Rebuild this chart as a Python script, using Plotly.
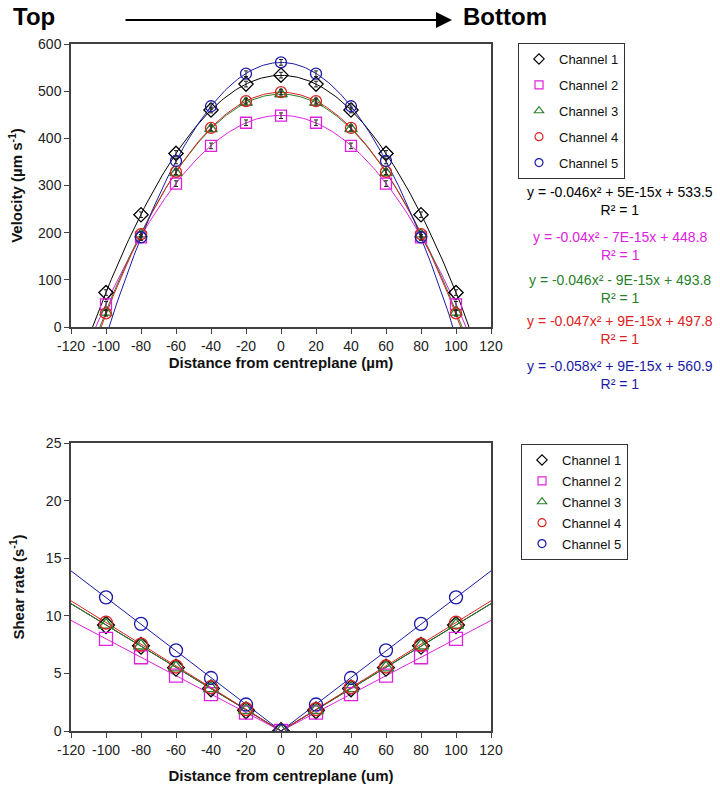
import numpy as np
import plotly.graph_objects as go

# ---- data ----
channels = ['Channel 1', 'Channel 2', 'Channel 3', 'Channel 4', 'Channel 5']
colors = ['#000000', '#DD22DD', '#2A7F2A', '#DD2222', '#1A1AA6']
symbols = ['diamond-open', 'square-open', 'triangle-up-open', 'circle-open', 'circle-open']

dist = [-100, -80, -60, -40, -20, 0, 20, 40, 60, 80, 100]

vel_ch1 = [73, 238, 368, 460, 515, 534, 515, 460, 368, 238, 73]
vel_ch2 = [48, 190, 304, 384, 433, 448, 433, 384, 304, 190, 48]
vel_ch3 = [31, 197, 327, 420, 476, 494, 476, 420, 327, 197, 31]
vel_ch4 = [29, 197, 329, 422, 479, 498, 479, 422, 329, 197, 29]
vel_ch5 = [None, 190, 352, 468, 537, 561, 537, 468, 352, 190, None]
vel_err = [6, 6, 6, 6, 6, 6, 6, 6, 6, 6, 6]

# trendline coefficients (from the equation labels): y = a*x^2 + b*x + c
fit_a = [-0.046, -0.04, -0.046, -0.047, -0.058]
fit_b_txt = ['+ 5E-15x', '- 7E-15x', '- 9E-15x', '+ 9E-15x', '+ 9E-15x']
fit_c = [533.5, 448.8, 493.8, 497.8, 560.9]

shear_ch1 = [9.2, 7.4, 5.5, 3.7, 1.8, 0, 1.8, 3.7, 5.5, 7.4, 9.2]
shear_ch2 = [8.0, 6.4, 4.8, 3.2, 1.6, 0, 1.6, 3.2, 4.8, 6.4, 8.0]
shear_ch3 = [9.2, 7.4, 5.5, 3.7, 1.8, 0, 1.8, 3.7, 5.5, 7.4, 9.2]
shear_ch4 = [9.4, 7.5, 5.6, 3.8, 1.9, 0, 1.9, 3.8, 5.6, 7.5, 9.4]
shear_ch5 = [11.6, 9.3, 7.0, 4.6, 2.3, 0, 2.3, 4.6, 7.0, 9.3, 11.6]

# shear trend lines: value at -120, 0, +120
line_x = [-120, 0, 120]
shear_end = [11.05, 9.6, 11.05, 11.3, 13.9]

x_ticks = [-120, -100, -80, -60, -40, -20, 0, 20, 40, 60, 80, 100, 120]
x_labels = ['-120', '-100', '-80', '-60', '-40', '-20', '0', '20', '40', '60', '80', '100', '120']

vel = [vel_ch1, vel_ch2, vel_ch3, vel_ch4, vel_ch5]
shear = [shear_ch1, shear_ch2, shear_ch3, shear_ch4, shear_ch5]

FONT = 'Arial, Liberation Sans, sans-serif'

fig = go.Figure()

xs = np.linspace(-120, 120, 241)
for i in range(5):
    fig.add_trace(go.Scatter(
        x=xs, y=fit_a[i] * xs ** 2 + fit_c[i], mode='lines',
        line=dict(color=colors[i], width=1), showlegend=False,
        hoverinfo='skip', xaxis='x', yaxis='y'))
for i in range(5):
    fig.add_trace(go.Scatter(
        x=dist, y=vel[i], mode='markers', name=channels[i], showlegend=False,
        marker=dict(symbol=symbols[i], size=11, color=colors[i],
                    line=dict(width=1.3, color=colors[i])),
        error_y=dict(type='data', array=vel_err, color='#222222', thickness=1, width=2),
        xaxis='x', yaxis='y'))
    # small legend swatch
    fig.add_trace(go.Scatter(
        x=[None], y=[None], mode='markers', name=channels[i],
        marker=dict(symbol=symbols[i], size=8, color=colors[i],
                    line=dict(width=1.2, color=colors[i])),
        legend='legend', legendgroup='a%d' % i, xaxis='x', yaxis='y'))

for i in range(5):
    fig.add_trace(go.Scatter(
        x=line_x, y=[shear_end[i], 0, shear_end[i]], mode='lines',
        line=dict(color=colors[i], width=1), showlegend=False,
        hoverinfo='skip', xaxis='x2', yaxis='y2'))
for i in range(5):
    fig.add_trace(go.Scatter(
        x=dist, y=shear[i], mode='markers', name=channels[i], showlegend=False,
        marker=dict(symbol=symbols[i], size=13, color=colors[i],
                    line=dict(width=1.3, color=colors[i])),
        xaxis='x2', yaxis='y2'))
    fig.add_trace(go.Scatter(
        x=[None], y=[None], mode='markers', name=channels[i],
        marker=dict(symbol=symbols[i], size=8, color=colors[i],
                    line=dict(width=1.2, color=colors[i])),
        legend='legend2', legendgroup='b%d' % i, xaxis='x2', yaxis='y2'))

axis_common = dict(
    showline=True, linecolor='#404040', linewidth=1.5, mirror=True,
    ticks='outside', ticklen=5, tickcolor='#404040',
    showgrid=False, zeroline=False, automargin=False,
    tickfont=dict(family=FONT, size=14, color='#222222'),
)
title_font = dict(family=FONT, size=15, color='#111111', weight='bold')
legend_common = dict(
    xanchor='left', yanchor='top', bordercolor='#333333', borderwidth=1,
    bgcolor='white', font=dict(family=FONT, size=13, color='#111111'),
    itemwidth=30, traceorder='grouped', itemsizing='trace',
)

fig.update_layout(
    width=720, height=795,
    margin=dict(l=0, r=0, t=0, b=0),
    paper_bgcolor='white', plot_bgcolor='white',
    font=dict(family=FONT),
    xaxis=dict(axis_common, domain=[71 / 720, 491 / 720], range=[-120, 120],
               tickvals=x_ticks, ticktext=x_labels,
               title=dict(text='<b>Distance from centreplane (µm)</b>', font=title_font, standoff=4),
               anchor='y'),
    yaxis=dict(axis_common, domain=[1 - 327 / 795, 1 - 44 / 795], range=[0, 600], dtick=100,
               title=dict(text='<b>Velocity (µm s<sup>-1</sup>)</b>', font=title_font, standoff=12),
               anchor='x'),
    xaxis2=dict(axis_common, domain=[71 / 720, 491 / 720], range=[-120, 120],
                tickvals=x_ticks, ticktext=x_labels,
                title=dict(text='<b>Distance from centreplane (um)</b>', font=title_font, standoff=14),
                anchor='y2'),
    yaxis2=dict(axis_common, domain=[1 - 731 / 795, 1 - 443 / 795], range=[0, 25], dtick=5,
                title=dict(text='<b>Shear rate (s<sup>-1</sup>)</b>', font=title_font, standoff=18),
                anchor='x2'),
    legend=dict(legend_common, x=518 / 720, y=1 - 43 / 795, tracegroupgap=6),
    legend2=dict(legend_common, x=521 / 720, y=1 - 444 / 795, tracegroupgap=1),
)

# trendline equations
eq_y = [191, 236, 279, 320, 365]
for i in range(5):
    a_txt = ('%g' % fit_a[i])
    txt = 'y = %sx² %s + %s<br>R² = 1' % (a_txt, fit_b_txt[i], fit_c[i])
    fig.add_annotation(x=620 / 720, y=1 - (eq_y[i] - 9) / 795, xref='paper', yref='paper',
                       text=txt, showarrow=False, xanchor='center', yanchor='top',
                       align='center', font=dict(family=FONT, size=14, color=colors[i]))

# header with arrow
fig.add_annotation(x=11 / 720, y=1 - 17 / 795, xref='paper', yref='paper', text='<b>Top</b>',
                   showarrow=False, xanchor='left', yanchor='middle',
                   font=dict(family=FONT, size=24, color='black'))
fig.add_annotation(x=461 / 720, y=1 - 17 / 795, xref='paper', yref='paper', text='<b>Bottom</b>',
                   showarrow=False, xanchor='left', yanchor='middle',
                   font=dict(family=FONT, size=24, color='black'))
fig.add_annotation(x=452 / 720, y=1 - 20 / 795, xref='paper', yref='paper', text='',
                   showarrow=True, ax=-328, ay=0, arrowhead=2, arrowsize=1.6,
                   arrowwidth=2, arrowcolor='black')

fig.write_html("out.html", config={'displayModeBar': False},
               post_script="document.body.style.margin='0px';")
